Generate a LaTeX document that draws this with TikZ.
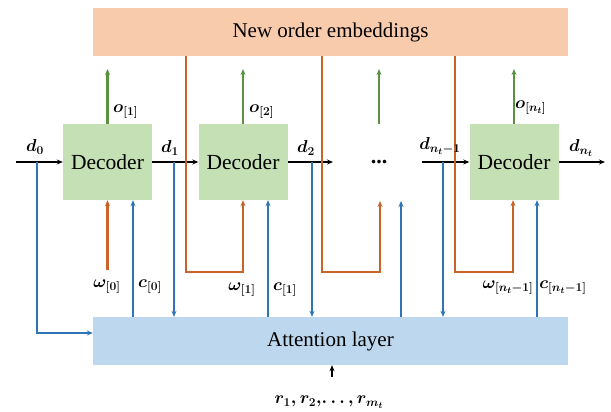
\documentclass[tikz,border=0pt]{standalone}
\usepackage{amsmath,bm}
\usepackage{fontspec}
\setmainfont{Liberation Serif}
\usetikzlibrary{arrows.meta}
\definecolor{embfill}{HTML}{F8CBAD}
\definecolor{decfill}{HTML}{C5E0B4}
\definecolor{attfill}{HTML}{BDD7EE}
\definecolor{oline}{HTML}{C8642A}
\definecolor{bline}{HTML}{2E75B6}
\definecolor{gline}{HTML}{5B9140}
\tikzset{
  bigbox/.style={fill=#1, draw=none, minimum width=475pt, minimum height=48pt, inner sep=0pt, font=\fontsize{21}{24}\selectfont},
  decbox/.style={fill=decfill, draw=none, minimum width=89pt, minimum height=76pt, inner sep=0pt, font=\fontsize{21.5}{24}\selectfont},
  lab/.style={inner sep=1pt, font=\fontsize{17.5}{20}\selectfont},
  tip/.style={-{Stealth[length=6pt,width=5pt]}},
  garrow/.style={tip, draw=gline, line width=2.2pt},
  oarrow/.style={tip, draw=oline, line width=2.2pt},
  barrow/.style={tip, draw=bline, line width=2.2pt},
  karrow/.style={tip, draw=black, line width=1.6pt},
}
\begin{document}
\begin{tikzpicture}[x=1pt,y=-1pt]
\useasboundingbox (0,0) rectangle (611,412);
% boxes
\node[bigbox=embfill] (emb) at (330.5,32) {New order embeddings};
\node[bigbox=attfill] (att) at (330.5,341) {Attention layer};
\node[decbox] (dec1) at (107.5,162) {Decoder};
\node[decbox] (dec2) at (243,162) {Decoder};
\node[decbox] (dec3) at (514,162) {Decoder};
\node[font=\fontsize{22}{24}\selectfont\bfseries, inner sep=0pt] (dots) at (379,162) {...};
% coordinates
\coordinate (d0s) at (16,162);
\coordinate (d2e) at (333,162);
\coordinate (dns) at (422,162);
\coordinate (dne) at (605,162);
\coordinate (g1) at (107.5,69);
\coordinate (g2) at (243,69);
\coordinate (g3) at (379,69);
\coordinate (g3b) at (379,124);
\coordinate (g4) at (514,69);
\coordinate (rin) at (332,377);
% horizontal black arrows
\draw[karrow] (d0s) -- (dec1.west);
\draw[karrow] (dec1.east) -- (dec2.west);
\draw[karrow] (dec2.east) -- (d2e);
\draw[karrow] (dns) -- (dec3.west);
\draw[karrow] (dec3.east) -- (dne);
\draw[karrow] (rin) -- (att.south -| rin);
% green outputs
\draw[garrow] (dec1.north) -- (g1);
\draw[garrow] (dec2.north) -- (g2);
\draw[garrow] (g3b) -- (g3);
\draw[garrow] (dec3.north) -- (g4);
% blue lines down to attention
\draw[barrow] (37,162) -- (37,333) -- (att.west |- 0,333);
\draw[barrow] (174,162) -- (att.north -| 174,0);
\draw[barrow] (312,162) -- (att.north -| 312,0);
\draw[barrow] (443,162) -- (att.north -| 443,0);
% blue contexts up
\draw[barrow] (att.north -| 133,0) -- (dec1.south -| 133,0);
\draw[barrow] (att.north -| 268,0) -- (dec2.south -| 268,0);
\draw[barrow] (att.north -| 401,0) -- (401,201);
\draw[barrow] (att.north -| 537,0) -- (dec3.south -| 537,0);
% orange
\draw[oarrow] (107.5,270) -- (dec1.south);
\draw[oarrow] (emb.south -| 186,0) -- (186,272) -- (243,272) -- (dec2.south);
\draw[oarrow] (emb.south -| 322,0) -- (322,272) -- (380,272) -- (380,201);
\draw[oarrow] (emb.south -| 455,0) -- (455,272) -- (513,272) -- (dec3.south -| 513,0);
% labels
\boldmath
\node[lab, anchor=west] (lo1) at (112,112) {$\bm{o}_{[1]}$};
\node[lab, anchor=west] (lo2) at (248,112) {$\bm{o}_{[2]}$};
\node[lab, anchor=west] (lo3) at (514,108) {$\bm{o}_{[n_t]}$};
\node[lab] (ld0) at (35,147) {$\bm{d}_0$};
\node[lab] (ld1) at (170,148) {$\bm{d}_1$};
\node[lab] (ld2) at (306,148) {$\bm{d}_2$};
\node[lab] (ld3) at (440,146) {$\bm{d}_{n_t-1}$};
\node[lab] (ld4) at (581,148) {$\bm{d}_{n_t}$};
\node[lab] (lw0) at (107,287) {$\bm{\omega}_{[0]}$};
\node[lab] (lc0) at (150,287) {$\bm{c}_{[0]}$};
\node[lab] (lw1) at (242,290) {$\bm{\omega}_{[1]}$};
\node[lab] (lc1) at (285,290) {$\bm{c}_{[1]}$};
\node[lab] (lw3) at (508,288) {$\bm{\omega}_{[n_t-1]}$};
\node[lab] (lc3) at (563,288) {$\bm{c}_{[n_t-1]}$};
\node[lab] (lr) at (329,402) {$\bm{r}_1, \bm{r}_2,\!.\,.\,.\,, \bm{r}_{m_t}$};
\end{tikzpicture}
\end{document}
